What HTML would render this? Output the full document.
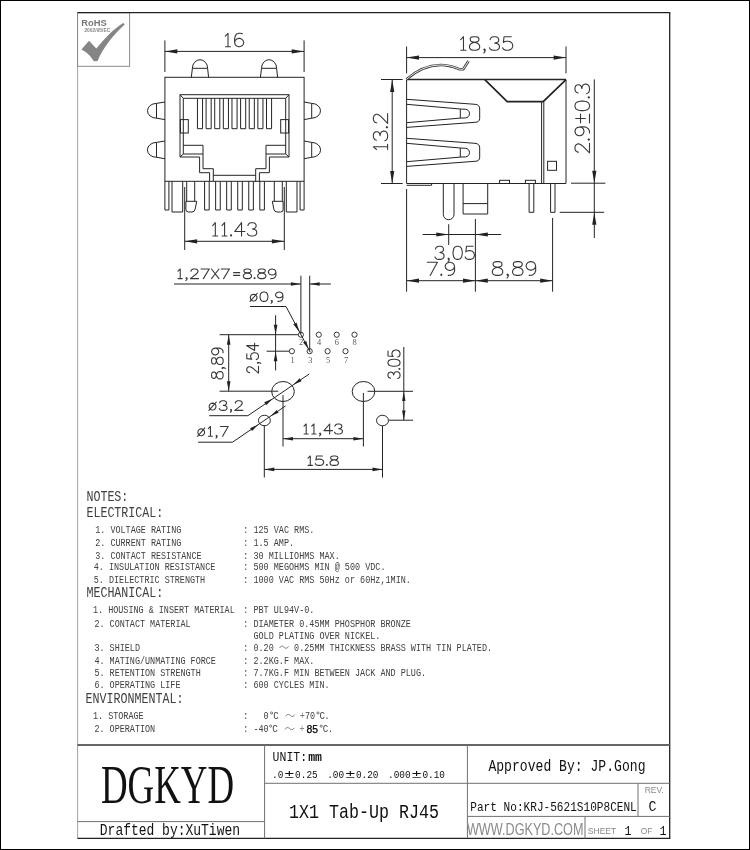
<!DOCTYPE html>
<html><head><meta charset="utf-8"><title>1X1 Tab-Up RJ45</title>
<style>
html,body{margin:0;padding:0;background:#fff;}
body{width:750px;height:850px;overflow:hidden;font-family:"Liberation Sans",sans-serif;}
svg{display:block;will-change:transform;}
text{font-family:"Liberation Mono",monospace;}
</style></head><body>
<svg width="750" height="850" viewBox="0 0 750 850">
<rect x="0" y="0" width="750" height="850" fill="#fff"/>
<rect x="0.5" y="0.5" width="749" height="849" fill="none" stroke="#000" stroke-width="1"/>
<line x1="669.70" y1="12.00" x2="669.70" y2="838.40" stroke="#222" stroke-width="1.30"/>
<line x1="77.60" y1="12.60" x2="77.60" y2="838.40" stroke="#999" stroke-width="0.90"/>
<line x1="77.50" y1="838.40" x2="670.30" y2="838.40" stroke="#222" stroke-width="1.30"/>
<rect x="77.5" y="12.7" width="52.1" height="53.6" fill="none" stroke="#8a8a8a" stroke-width="1"/>
<text x="81.3" y="26.3" font-family="Liberation Sans" font-weight="bold" font-size="9.3" fill="#777" style="font-family:'Liberation Sans'">RoHS</text>
<text x="84.4" y="31.8" font-family="Liberation Sans" font-weight="bold" font-size="4.9" fill="#888" style="font-family:'Liberation Sans'">2002/95/EC</text>
<path d="M81.4,49.4 L89,40.8 L96.3,48.6 C103,40 113,29 123.2,22.9 L124.9,24.2 C113,35 103,48 97.6,60.9 L93.8,61.3 C91,56 86,51.5 81.4,49.4 Z" fill="#858585"/>
<line x1="77.50" y1="12.60" x2="669.70" y2="12.60" stroke="#222" stroke-width="1.30"/>
<rect x="164.90" y="77.30" width="139.20" height="104.00" fill="none" stroke="#242424" stroke-width="1.00"/>
<path d="M191.30,77.30 L192.40,68.3 A7.60,8.6 0 0 1 207.60,68.3 L208.60,77.30" fill="none" stroke="#242424" stroke-width="1.00" />
<line x1="192.40" y1="68.30" x2="207.60" y2="68.30" stroke="#242424" stroke-width="1.00"/>
<path d="M260.40,77.30 L261.50,68.3 A7.55,8.6 0 0 1 276.60,68.3 L277.60,77.30" fill="none" stroke="#242424" stroke-width="1.00" />
<line x1="261.50" y1="68.30" x2="276.60" y2="68.30" stroke="#242424" stroke-width="1.00"/>
<path d="M164.90,102.00 L156.5,103.40 A9.0,7.4 0 0 0 156.5,118.20 L164.90,119.60" fill="none" stroke="#242424" stroke-width="1.00" />
<line x1="156.50" y1="103.40" x2="156.50" y2="118.20" stroke="#242424" stroke-width="1.00"/>
<path d="M304.10,102.00 L311.7,103.40 A8.8,7.4 0 0 1 311.7,118.20 L304.10,119.60" fill="none" stroke="#242424" stroke-width="1.00" />
<line x1="311.70" y1="103.40" x2="311.70" y2="118.20" stroke="#242424" stroke-width="1.00"/>
<path d="M164.90,141.00 L156.5,142.40 A9.0,7.4 0 0 0 156.5,157.30 L164.90,158.70" fill="none" stroke="#242424" stroke-width="1.00" />
<line x1="156.50" y1="142.40" x2="156.50" y2="157.30" stroke="#242424" stroke-width="1.00"/>
<path d="M304.10,141.00 L311.7,142.40 A8.8,7.4 0 0 1 311.7,157.30 L304.10,158.70" fill="none" stroke="#242424" stroke-width="1.00" />
<line x1="311.70" y1="142.40" x2="311.70" y2="157.30" stroke="#242424" stroke-width="1.00"/>
<path d="M209.60,181.30 L209.60,172.70 L199.60,172.70 L199.60,157.00 L180.00,157.00 L180.00,94.70 L289.00,94.70 L289.00,157.00 L269.40,157.00 L269.40,172.70 L259.40,172.70 L259.40,181.30" fill="none" stroke="#242424" stroke-width="1.00" />
<path d="M213.30,181.30 L213.30,168.70 L203.00,168.70 L203.00,154.00 L183.30,154.00 L183.30,98.30 L285.70,98.30 L285.70,154.00 L266.00,154.00 L266.00,168.70 L255.70,168.70 L255.70,181.30" fill="none" stroke="#242424" stroke-width="1.00" />
<line x1="180.00" y1="94.70" x2="183.30" y2="98.30" stroke="#242424" stroke-width="1.00"/>
<line x1="180.00" y1="157.00" x2="183.30" y2="154.00" stroke="#242424" stroke-width="1.00"/>
<path d="M183.30,145.3 L203.00,145.3 L203.00,154.0" fill="none" stroke="#242424" stroke-width="1.00" />
<rect x="180.40" y="119.60" width="7.90" height="13.40" fill="none" stroke="#242424" stroke-width="1.00"/>
<line x1="289.00" y1="94.70" x2="285.70" y2="98.30" stroke="#242424" stroke-width="1.00"/>
<line x1="289.00" y1="157.00" x2="285.70" y2="154.00" stroke="#242424" stroke-width="1.00"/>
<path d="M285.70,145.3 L266.00,145.3 L266.00,154.0" fill="none" stroke="#242424" stroke-width="1.00" />
<rect x="280.70" y="119.60" width="7.90" height="13.40" fill="none" stroke="#242424" stroke-width="1.00"/>
<line x1="213.30" y1="175.30" x2="255.70" y2="175.30" stroke="#242424" stroke-width="1.00"/>
<path d="M197.45,98.3 L197.45,128.7 L202.55,128.7 L202.55,98.3" fill="none" stroke="#242424" stroke-width="1.00" />
<path d="M206.08,98.3 L206.08,128.7 L211.18,128.7 L211.18,98.3" fill="none" stroke="#242424" stroke-width="1.00" />
<path d="M214.71,98.3 L214.71,128.7 L219.81,128.7 L219.81,98.3" fill="none" stroke="#242424" stroke-width="1.00" />
<path d="M223.34,98.3 L223.34,128.7 L228.44,128.7 L228.44,98.3" fill="none" stroke="#242424" stroke-width="1.00" />
<path d="M231.97,98.3 L231.97,128.7 L237.07,128.7 L237.07,98.3" fill="none" stroke="#242424" stroke-width="1.00" />
<path d="M240.60,98.3 L240.60,128.7 L245.70,128.7 L245.70,98.3" fill="none" stroke="#242424" stroke-width="1.00" />
<path d="M249.23,98.3 L249.23,128.7 L254.33,128.7 L254.33,98.3" fill="none" stroke="#242424" stroke-width="1.00" />
<path d="M257.86,98.3 L257.86,128.7 L262.96,128.7 L262.96,98.3" fill="none" stroke="#242424" stroke-width="1.00" />
<path d="M266.49,98.3 L266.49,128.7 L271.59,128.7 L271.59,98.3" fill="none" stroke="#242424" stroke-width="1.00" />
<path d="M164.90,181.30 L164.90,210 L168.90,210 L168.90,181.30" fill="none" stroke="#242424" stroke-width="1.00" />
<path d="M172.00,181.30 L172.00,212 L182.70,212 L182.70,181.30" fill="none" stroke="#242424" stroke-width="1.00" />
<line x1="186.70" y1="181.30" x2="186.70" y2="201.30" stroke="#242424" stroke-width="1.00"/>
<line x1="194.70" y1="181.30" x2="194.70" y2="201.30" stroke="#242424" stroke-width="1.00"/>
<path d="M185.90,201.3 L196.70,201.3 L195.20,209 Q194.60,212 192.00,212 L188.50,212 Q185.90,212 185.90,209.5 Z" fill="none" stroke="#242424" stroke-width="1.00" />
<path d="M304.10,181.30 L304.10,210 L300.10,210 L300.10,181.30" fill="none" stroke="#242424" stroke-width="1.00" />
<path d="M297.00,181.30 L297.00,212 L286.30,212 L286.30,181.30" fill="none" stroke="#242424" stroke-width="1.00" />
<line x1="282.30" y1="181.30" x2="282.30" y2="201.30" stroke="#242424" stroke-width="1.00"/>
<line x1="274.30" y1="181.30" x2="274.30" y2="201.30" stroke="#242424" stroke-width="1.00"/>
<path d="M283.10,201.3 L272.30,201.3 L273.80,209 Q274.40,212 277.00,212 L280.50,212 Q283.10,212 283.10,209.5 Z" fill="none" stroke="#242424" stroke-width="1.00" />
<path d="M204.60,181.30 L204.60,210 L209.20,210 L209.20,181.30" fill="none" stroke="#242424" stroke-width="1.00" />
<path d="M215.64,181.30 L215.64,210 L220.24,210 L220.24,181.30" fill="none" stroke="#242424" stroke-width="1.00" />
<path d="M226.68,181.30 L226.68,210 L231.28,210 L231.28,181.30" fill="none" stroke="#242424" stroke-width="1.00" />
<path d="M237.72,181.30 L237.72,210 L242.32,210 L242.32,181.30" fill="none" stroke="#242424" stroke-width="1.00" />
<path d="M248.76,181.30 L248.76,210 L253.36,210 L253.36,181.30" fill="none" stroke="#242424" stroke-width="1.00" />
<path d="M259.80,181.30 L259.80,210 L264.40,210 L264.40,181.30" fill="none" stroke="#242424" stroke-width="1.00" />
<line x1="164.90" y1="40.40" x2="164.90" y2="72.00" stroke="#242424" stroke-width="1.00"/>
<line x1="304.10" y1="40.40" x2="304.10" y2="72.00" stroke="#242424" stroke-width="1.00"/>
<line x1="164.90" y1="51.40" x2="304.10" y2="51.40" stroke="#242424" stroke-width="1.00"/>
<polygon points="164.90,51.40 177.30,49.30 177.30,53.50" fill="#222"/>
<polygon points="304.10,51.40 291.70,53.50 291.70,49.30" fill="#222"/>
<path d="M225.30,36.24 L228.00,33.30 L228.00,46.70 M225.43,46.70 L230.44,46.70 M242.44,33.81 L240.55,33.30 L238.80,33.30 L236.69,33.94 L235.29,35.85 L234.59,39.04 L234.59,42.23 L235.29,44.79 L236.69,46.06 L238.80,46.70 L239.50,46.70 L241.60,46.06 L243.00,44.79 L243.70,42.87 L243.70,42.23 L243.00,40.32 L241.60,39.04 L239.50,38.40 L238.80,38.40 L236.69,39.04 L235.29,40.32 L234.59,42.23" fill="none" stroke="#383838" stroke-width="1.10" stroke-linecap="round" stroke-linejoin="round"/>
<line x1="184.70" y1="187.00" x2="184.70" y2="250.00" stroke="#242424" stroke-width="1.00"/>
<line x1="284.30" y1="187.00" x2="284.30" y2="250.00" stroke="#242424" stroke-width="1.00"/>
<line x1="184.70" y1="241.30" x2="284.30" y2="241.30" stroke="#242424" stroke-width="1.00"/>
<polygon points="184.70,241.30 197.10,239.20 197.10,243.40" fill="#222"/>
<polygon points="284.30,241.30 271.90,243.40 271.90,239.20" fill="#222"/>
<path d="M212.70,225.61 L215.33,222.70 L215.33,236.00 M212.83,236.00 L217.71,236.00 M221.97,225.61 L224.60,222.70 L224.60,236.00 M222.09,236.00 L226.98,236.00 M231.05,234.73 L230.42,235.37 L231.05,236.00 L231.67,235.37 L231.05,234.73 M241.55,222.70 L234.72,231.57 L244.96,231.57 M241.55,222.70 L241.55,236.00 M247.93,225.55 L248.34,224.35 L249.29,223.33 L250.86,222.70 L253.39,222.70 L254.89,223.27 L255.71,224.09 L256.12,225.36 L256.12,226.37 L255.57,227.64 L254.27,228.53 L252.36,228.97 M252.36,228.97 L254.41,229.35 L255.84,230.17 L256.60,231.31 L256.80,232.45 L256.53,233.85 L255.71,234.99 L254.48,235.68 L252.70,236.00 L251.07,236.00 L249.16,235.56 L248.06,234.73 L247.38,233.47" fill="none" stroke="#383838" stroke-width="1.10" stroke-linecap="round" stroke-linejoin="round"/>
<line x1="406.60" y1="79.60" x2="566.00" y2="79.60" stroke="#242424" stroke-width="1.50"/>
<line x1="406.60" y1="79.60" x2="406.60" y2="183.50" stroke="#242424" stroke-width="1.00"/>
<line x1="566.00" y1="79.60" x2="566.00" y2="183.50" stroke="#242424" stroke-width="1.00"/>
<line x1="406.60" y1="183.50" x2="566.00" y2="183.50" stroke="#242424" stroke-width="1.00"/>
<path d="M484.8,79.60 L507.2,101.7 L543.2,101.7 L566.00,79.60" fill="none" stroke="#222" stroke-width="1.70" />
<line x1="541.60" y1="101.70" x2="541.60" y2="183.50" stroke="#242424" stroke-width="1.00"/>
<line x1="543.80" y1="101.70" x2="543.80" y2="183.50" stroke="#242424" stroke-width="1.00"/>
<rect x="547.60" y="161.30" width="8.90" height="9.00" fill="none" stroke="#242424" stroke-width="1.00"/>
<path d="M406.60,79.30 C417,70 428,65.2 440.7,65.0 C450,65.0 455,67.5 459.3,69.2 L463.3,69.2 L468.5,61.0" fill="none" stroke="#3a3a3a" stroke-width="2.60" />
<path d="M406.60,79.30 C417,70 428,65.2 440.7,65.0 C450,65.0 455,67.5 459.3,69.2 L463.3,69.2 L468.5,61.0" fill="none" stroke="#fff" stroke-width="0.90" />
<path d="M406.60,99.30 L475,104.30 Q479.7,104.60 479.7,109.00 L479.7,118.30 Q479.7,122.30 475,122.30 L406.60,127.40" fill="none" stroke="#242424" stroke-width="1.00" />
<path d="M406.60,104.30 L460.3,109.00 L465.4,109.30 A4.1,4.3 0 0 1 465.4,117.90 L460.3,118.10 L406.60,122.70" fill="none" stroke="#242424" stroke-width="1.00" />
<line x1="460.30" y1="109.00" x2="460.30" y2="118.10" stroke="#242424" stroke-width="1.00"/>
<path d="M406.60,138.30 L475,143.30 Q479.7,143.60 479.7,148.00 L479.7,157.30 Q479.7,161.30 475,161.30 L406.60,166.40" fill="none" stroke="#242424" stroke-width="1.00" />
<path d="M406.60,143.30 L460.3,148.00 L465.4,148.30 A4.1,4.3 0 0 1 465.4,156.90 L460.3,157.10 L406.60,161.70" fill="none" stroke="#242424" stroke-width="1.00" />
<line x1="460.30" y1="148.00" x2="460.30" y2="157.10" stroke="#242424" stroke-width="1.00"/>
<path d="M406.60,185.3 L431.6,185.3 L431.6,183.50" fill="none" stroke="#242424" stroke-width="1.00" />
<rect x="499.60" y="180.30" width="9.90" height="3.20" fill="none" stroke="#242424" stroke-width="1.00"/>
<rect x="525.40" y="180.30" width="10.00" height="3.20" fill="none" stroke="#242424" stroke-width="1.00"/>
<path d="M443.3,183.50 L443.3,214.5 A5.35,5.2 0 0 0 454.0,214.5 L454.0,183.50" fill="none" stroke="#242424" stroke-width="1.00" />
<path d="M463.1,183.50 L463.1,214.0 L487.7,214.0 L487.7,183.50" fill="none" stroke="#242424" stroke-width="1.00" />
<line x1="463.10" y1="203.60" x2="487.70" y2="203.60" stroke="#242424" stroke-width="1.00"/>
<path d="M529.1,183.50 L529.1,212.3 L533.8,212.3 L533.8,183.50" fill="none" stroke="#242424" stroke-width="1.00" />
<path d="M550.6,183.50 L550.6,212.3 L555.0,212.3 L555.0,183.50" fill="none" stroke="#242424" stroke-width="1.00" />
<line x1="406.60" y1="46.50" x2="406.60" y2="73.40" stroke="#242424" stroke-width="1.00"/>
<line x1="566.00" y1="46.50" x2="566.00" y2="73.40" stroke="#242424" stroke-width="1.00"/>
<line x1="406.60" y1="57.60" x2="566.00" y2="57.60" stroke="#242424" stroke-width="1.00"/>
<polygon points="406.60,57.60 419.00,55.50 419.00,59.70" fill="#222"/>
<polygon points="566.00,57.60 553.60,59.70 553.60,55.50" fill="#222"/>
<path d="M460.70,39.68 L463.48,36.70 L463.48,50.30 M460.83,50.30 L465.99,50.30 M473.15,36.70 L470.98,37.35 L470.26,38.64 L470.26,39.94 L470.98,41.23 L472.43,41.88 L475.31,42.53 L477.47,43.18 L478.91,44.47 L479.63,45.77 L479.63,47.71 L478.91,49.00 L478.19,49.65 L476.03,50.30 L473.15,50.30 L470.98,49.65 L470.26,49.00 L469.54,47.71 L469.54,45.77 L470.26,44.47 L471.70,43.18 L473.87,42.53 L476.75,41.88 L478.19,41.23 L478.91,39.94 L478.91,38.64 L478.19,37.35 L476.03,36.70 L473.15,36.70 M485.17,49.65 L484.51,50.30 L483.85,49.65 L484.51,49.00 L485.17,49.65 L485.17,50.95 L484.51,52.24 L483.85,52.89 M490.10,39.61 L490.54,38.38 L491.54,37.35 L493.20,36.70 L495.87,36.70 L497.46,37.28 L498.32,38.12 L498.75,39.42 L498.75,40.46 L498.18,41.75 L496.81,42.66 L494.79,43.11 M494.79,43.11 L496.95,43.50 L498.46,44.34 L499.26,45.51 L499.47,46.67 L499.19,48.10 L498.32,49.26 L497.02,49.98 L495.15,50.30 L493.42,50.30 L491.40,49.85 L490.25,49.00 L489.53,47.71 M511.26,36.70 L504.05,36.70 L503.33,42.53 L504.05,41.88 L506.21,41.23 L508.37,41.23 L510.54,41.88 L511.98,43.18 L512.70,45.12 L512.70,46.41 L511.98,48.36 L510.54,49.65 L508.37,50.30 L506.21,50.30 L504.05,49.65 L503.33,49.00 L502.61,47.71" fill="none" stroke="#383838" stroke-width="1.10" stroke-linecap="round" stroke-linejoin="round"/>
<line x1="381.00" y1="79.50" x2="402.60" y2="79.50" stroke="#242424" stroke-width="1.00"/>
<line x1="381.00" y1="183.50" x2="402.60" y2="183.50" stroke="#242424" stroke-width="1.00"/>
<line x1="392.20" y1="79.50" x2="392.20" y2="183.50" stroke="#242424" stroke-width="1.00"/>
<polygon points="392.20,79.50 394.30,91.90 390.10,91.90" fill="#222"/>
<polygon points="392.20,183.50 390.10,171.10 394.30,171.10" fill="#222"/>
<path d="M376.51,149.50 L373.40,146.79 L387.60,146.79 M387.60,149.37 L387.60,144.34 M376.44,140.17 L375.16,139.75 L374.08,138.76 L373.40,137.14 L373.40,134.54 L374.01,132.99 L374.89,132.15 L376.24,131.73 L377.32,131.73 L378.67,132.29 L379.62,133.63 L380.09,135.60 M380.09,135.60 L380.50,133.49 L381.38,132.01 L382.60,131.24 L383.81,131.02 L385.30,131.31 L386.52,132.15 L387.26,133.42 L387.60,135.24 L387.60,136.93 L387.13,138.90 L386.25,140.03 L384.90,140.73 M386.25,127.24 L386.92,127.88 L387.60,127.24 L386.92,126.59 L386.25,127.24 M376.78,122.74 L376.10,122.74 L374.75,122.04 L374.08,121.34 L373.40,119.93 L373.40,117.12 L374.08,115.71 L374.75,115.01 L376.10,114.30 L377.46,114.30 L378.81,115.01 L380.84,116.41 L387.60,123.45 L387.60,113.60" fill="none" stroke="#383838" stroke-width="1.10" stroke-linecap="round" stroke-linejoin="round"/>
<line x1="571.00" y1="183.20" x2="605.40" y2="183.20" stroke="#242424" stroke-width="1.00"/>
<line x1="559.70" y1="212.30" x2="604.20" y2="212.30" stroke="#242424" stroke-width="1.00"/>
<line x1="594.30" y1="79.40" x2="594.30" y2="238.00" stroke="#242424" stroke-width="1.00"/>
<polygon points="594.30,183.20 592.20,170.80 596.40,170.80" fill="#222"/>
<polygon points="594.30,212.30 596.40,224.70 592.20,224.70" fill="#222"/>
<path d="M578.45,152.11 L577.76,152.11 L576.38,151.43 L575.69,150.74 L575.00,149.37 L575.00,146.63 L575.69,145.26 L576.38,144.58 L577.76,143.89 L579.14,143.89 L580.52,144.58 L582.60,145.95 L589.50,152.80 L589.50,143.20 M588.12,139.51 L588.81,140.14 L589.50,139.51 L588.81,138.89 L588.12,139.51 M579.83,126.91 L581.90,127.60 L583.29,128.97 L583.98,131.03 L583.98,131.71 L583.29,133.77 L581.90,135.14 L579.83,135.82 L579.14,135.82 L577.07,135.14 L575.69,133.77 L575.00,131.71 L575.00,131.03 L575.69,128.97 L577.07,127.60 L579.83,126.91 L583.29,126.91 L584.32,126.78 L586.74,127.60 L588.53,128.97 L589.36,130.68 L589.50,132.94 M580.52,122.85 L580.52,114.05 M575.69,118.45 L585.36,118.45 M589.50,122.85 L589.50,114.05 M575.00,106.56 L575.69,108.62 L577.76,109.99 L581.21,110.67 L583.29,110.67 L586.74,109.99 L588.81,108.62 L589.50,106.56 L589.50,105.19 L588.81,103.13 L586.74,101.76 L583.29,101.08 L581.21,101.08 L577.76,101.76 L575.69,103.13 L575.00,105.19 L575.00,106.56 M588.12,97.39 L588.81,98.01 L589.50,97.39 L588.81,96.76 L588.12,97.39 M578.11,93.01 L576.80,92.60 L575.69,91.64 L575.00,90.06 L575.00,87.53 L575.62,86.02 L576.52,85.20 L577.90,84.79 L579.00,84.79 L580.39,85.33 L581.35,86.64 L581.84,88.55 M581.84,88.55 L582.25,86.50 L583.15,85.06 L584.39,84.31 L585.63,84.10 L587.15,84.37 L588.40,85.20 L589.15,86.43 L589.50,88.21 L589.50,89.86 L589.02,91.78 L588.12,92.87 L586.74,93.56" fill="none" stroke="#383838" stroke-width="1.10" stroke-linecap="round" stroke-linejoin="round"/>
<line x1="406.60" y1="189.00" x2="406.60" y2="291.70" stroke="#242424" stroke-width="1.00"/>
<line x1="475.40" y1="219.00" x2="475.40" y2="291.70" stroke="#242424" stroke-width="1.00"/>
<line x1="552.60" y1="217.90" x2="552.60" y2="291.70" stroke="#242424" stroke-width="1.00"/>
<line x1="448.70" y1="224.20" x2="448.70" y2="245.00" stroke="#242424" stroke-width="1.00"/>
<line x1="422.60" y1="234.50" x2="501.20" y2="234.50" stroke="#242424" stroke-width="1.00"/>
<polygon points="448.70,234.50 436.30,236.60 436.30,232.40" fill="#222"/>
<polygon points="475.40,234.50 487.80,232.40 487.80,236.60" fill="#222"/>
<line x1="406.60" y1="280.70" x2="552.60" y2="280.70" stroke="#242424" stroke-width="1.00"/>
<polygon points="406.60,280.70 419.00,278.60 419.00,282.80" fill="#222"/>
<polygon points="475.40,280.70 463.00,282.80 463.00,278.60" fill="#222"/>
<polygon points="475.40,280.70 487.80,278.60 487.80,282.80" fill="#222"/>
<polygon points="552.60,280.70 540.20,282.80 540.20,278.60" fill="#222"/>
<path d="M435.53,249.11 L435.92,247.92 L436.85,246.92 L438.37,246.30 L440.81,246.30 L442.26,246.86 L443.06,247.67 L443.45,248.92 L443.45,249.92 L442.92,251.17 L441.67,252.04 L439.82,252.48 M439.82,252.48 L441.80,252.85 L443.19,253.66 L443.91,254.78 L444.11,255.91 L443.85,257.28 L443.06,258.40 L441.87,259.09 L440.15,259.40 L438.57,259.40 L436.72,258.96 L435.66,258.15 L435.00,256.90 M449.18,258.78 L448.58,259.40 L447.97,258.78 L448.58,258.15 L449.18,258.78 L449.18,260.02 L448.58,261.27 L447.97,261.90 M457.00,246.30 L455.02,246.92 L453.70,248.80 L453.04,251.91 L453.04,253.79 L453.70,256.90 L455.02,258.78 L457.00,259.40 L458.32,259.40 L460.30,258.78 L461.62,256.90 L462.28,253.79 L462.28,251.91 L461.62,248.80 L460.30,246.92 L458.32,246.30 L457.00,246.30 M473.08,246.30 L466.48,246.30 L465.82,251.91 L466.48,251.29 L468.46,250.67 L470.44,250.67 L472.42,251.29 L473.74,252.54 L474.40,254.41 L474.40,255.66 L473.74,257.53 L472.42,258.78 L470.44,259.40 L468.46,259.40 L466.48,258.78 L465.82,258.15 L465.16,256.90" fill="none" stroke="#383838" stroke-width="1.10" stroke-linecap="round" stroke-linejoin="round"/>
<path d="M437.40,262.30 L430.19,275.40 M427.30,262.30 L437.40,262.30 M441.29,274.15 L440.63,274.78 L441.29,275.40 L441.95,274.78 L441.29,274.15 M454.56,266.67 L453.83,268.54 L452.39,269.79 L450.23,270.41 L449.50,270.41 L447.34,269.79 L445.90,268.54 L445.17,266.67 L445.17,266.04 L445.90,264.17 L447.34,262.92 L449.50,262.30 L450.23,262.30 L452.39,262.92 L453.83,264.17 L454.56,266.67 L454.56,269.79 L454.70,270.72 L453.83,272.90 L452.39,274.53 L450.59,275.28 L448.21,275.40" fill="none" stroke="#383838" stroke-width="1.10" stroke-linecap="round" stroke-linejoin="round"/>
<path d="M496.07,261.60 L493.87,262.26 L493.13,263.57 L493.13,264.89 L493.87,266.20 L495.34,266.86 L498.28,267.51 L500.48,268.17 L501.95,269.49 L502.69,270.80 L502.69,272.77 L501.95,274.09 L501.22,274.74 L499.01,275.40 L496.07,275.40 L493.87,274.74 L493.13,274.09 L492.40,272.77 L492.40,270.80 L493.13,269.49 L494.60,268.17 L496.81,267.51 L499.75,266.86 L501.22,266.20 L501.95,264.89 L501.95,263.57 L501.22,262.26 L499.01,261.60 L496.07,261.60 M508.33,274.74 L507.65,275.40 L506.98,274.74 L507.65,274.09 L508.33,274.74 L508.33,276.06 L507.65,277.37 L506.98,278.03 M516.29,261.60 L514.09,262.26 L513.36,263.57 L513.36,264.89 L514.09,266.20 L515.56,266.86 L518.50,267.51 L520.70,268.17 L522.17,269.49 L522.91,270.80 L522.91,272.77 L522.17,274.09 L521.44,274.74 L519.23,275.40 L516.29,275.40 L514.09,274.74 L513.36,274.09 L512.62,272.77 L512.62,270.80 L513.36,269.49 L514.83,268.17 L517.03,267.51 L519.97,266.86 L521.44,266.20 L522.17,264.89 L522.17,263.57 L521.44,262.26 L519.23,261.60 L516.29,261.60 M535.65,266.20 L534.92,268.17 L533.45,269.49 L531.24,270.14 L530.51,270.14 L528.31,269.49 L526.84,268.17 L526.10,266.20 L526.10,265.54 L526.84,263.57 L528.31,262.26 L530.51,261.60 L531.24,261.60 L533.45,262.26 L534.92,263.57 L535.65,266.20 L535.65,269.49 L535.80,270.47 L534.92,272.77 L533.45,274.48 L531.61,275.27 L529.19,275.40" fill="none" stroke="#383838" stroke-width="1.10" stroke-linecap="round" stroke-linejoin="round"/>
<circle cx="300.90" cy="334.70" r="2.60" fill="none" stroke="#242424" stroke-width="0.90"/>
<circle cx="318.80" cy="334.70" r="2.60" fill="none" stroke="#242424" stroke-width="0.90"/>
<circle cx="336.70" cy="334.70" r="2.60" fill="none" stroke="#242424" stroke-width="0.90"/>
<circle cx="354.50" cy="334.70" r="2.60" fill="none" stroke="#242424" stroke-width="0.90"/>
<circle cx="291.90" cy="351.20" r="2.60" fill="none" stroke="#242424" stroke-width="0.90"/>
<circle cx="309.70" cy="351.20" r="2.60" fill="none" stroke="#242424" stroke-width="0.90"/>
<circle cx="327.60" cy="351.20" r="2.60" fill="none" stroke="#242424" stroke-width="0.90"/>
<circle cx="345.50" cy="351.20" r="2.60" fill="none" stroke="#242424" stroke-width="0.90"/>
<text x="301.10" y="345.3" font-size="8.4" text-anchor="middle" fill="#5a5a5a" style="font-family:'Liberation Serif'">2</text>
<text x="319.00" y="345.3" font-size="8.4" text-anchor="middle" fill="#5a5a5a" style="font-family:'Liberation Serif'">4</text>
<text x="336.90" y="345.3" font-size="8.4" text-anchor="middle" fill="#5a5a5a" style="font-family:'Liberation Serif'">6</text>
<text x="354.70" y="345.3" font-size="8.4" text-anchor="middle" fill="#5a5a5a" style="font-family:'Liberation Serif'">8</text>
<text x="292.50" y="363.3" font-size="8.4" text-anchor="middle" fill="#5a5a5a" style="font-family:'Liberation Serif'">1</text>
<text x="310.30" y="363.3" font-size="8.4" text-anchor="middle" fill="#5a5a5a" style="font-family:'Liberation Serif'">3</text>
<text x="328.20" y="363.3" font-size="8.4" text-anchor="middle" fill="#5a5a5a" style="font-family:'Liberation Serif'">5</text>
<text x="346.10" y="363.3" font-size="8.4" text-anchor="middle" fill="#5a5a5a" style="font-family:'Liberation Serif'">7</text>
<line x1="300.90" y1="275.70" x2="300.90" y2="334.00" stroke="#242424" stroke-width="1.00"/>
<line x1="309.70" y1="275.70" x2="309.70" y2="350.50" stroke="#242424" stroke-width="1.00"/>
<line x1="174.00" y1="284.00" x2="300.90" y2="284.00" stroke="#242424" stroke-width="1.00"/>
<polygon points="300.90,284.00 290.90,285.80 290.90,282.20" fill="#222"/>
<line x1="309.70" y1="284.00" x2="330.80" y2="284.00" stroke="#242424" stroke-width="1.00"/>
<polygon points="309.70,284.00 319.70,282.20 319.70,285.80" fill="#222"/>
<path d="M178.00,271.10 L180.23,269.00 L180.23,278.60 M178.11,278.60 L182.25,278.60 M187.04,278.14 L186.51,278.60 L185.98,278.14 L186.51,277.69 L187.04,278.14 L187.04,279.06 L186.51,279.97 L185.98,280.43 M191.01,271.29 L191.01,270.83 L191.59,269.91 L192.17,269.46 L193.33,269.00 L195.65,269.00 L196.81,269.46 L197.39,269.91 L197.97,270.83 L197.97,271.74 L197.39,272.66 L196.23,274.03 L190.43,278.60 L198.55,278.60 M209.18,269.00 L203.39,278.60 M201.07,269.00 L209.18,269.00 M211.51,269.00 L218.95,278.60 M218.95,269.00 L211.51,278.60 M229.39,269.00 L223.60,278.60 M221.28,269.00 L229.39,269.00 M233.58,272.66 L239.70,272.66 M233.58,275.40 L239.70,275.40 M246.25,269.00 L244.51,269.46 L243.93,270.37 L243.93,271.29 L244.51,272.20 L245.67,272.66 L247.99,273.11 L249.73,273.57 L250.89,274.49 L251.47,275.40 L251.47,276.77 L250.89,277.69 L250.31,278.14 L248.57,278.60 L246.25,278.60 L244.51,278.14 L243.93,277.69 L243.35,276.77 L243.35,275.40 L243.93,274.49 L245.09,273.57 L246.83,273.11 L249.15,272.66 L250.31,272.20 L250.89,271.29 L250.89,270.37 L250.31,269.46 L248.57,269.00 L246.25,269.00 M254.59,277.69 L254.06,278.14 L254.59,278.60 L255.12,278.14 L254.59,277.69 M260.61,269.00 L258.87,269.46 L258.29,270.37 L258.29,271.29 L258.87,272.20 L260.03,272.66 L262.35,273.11 L264.09,273.57 L265.25,274.49 L265.83,275.40 L265.83,276.77 L265.25,277.69 L264.67,278.14 L262.93,278.60 L260.61,278.60 L258.87,278.14 L258.29,277.69 L257.71,276.77 L257.71,275.40 L258.29,274.49 L259.45,273.57 L261.19,273.11 L263.51,272.66 L264.67,272.20 L265.25,271.29 L265.25,270.37 L264.67,269.46 L262.93,269.00 L260.61,269.00 M275.88,272.20 L275.30,273.57 L274.14,274.49 L272.41,274.94 L271.83,274.94 L270.09,274.49 L268.93,273.57 L268.35,272.20 L268.35,271.74 L268.93,270.37 L270.09,269.46 L271.83,269.00 L272.41,269.00 L274.14,269.46 L275.30,270.37 L275.88,272.20 L275.88,274.49 L276.00,275.17 L275.30,276.77 L274.14,277.96 L272.70,278.51 L270.78,278.60" fill="none" stroke="#383838" stroke-width="1.10" stroke-linecap="round" stroke-linejoin="round"/>
<path d="M256.99,297.60 L256.73,298.88 L256.00,299.97 L254.91,300.70 L253.62,300.95 L252.34,300.70 L251.24,299.97 L250.51,298.88 L250.26,297.60 L250.51,296.31 L251.24,295.22 L252.34,294.49 L253.62,294.24 L254.91,294.49 L256.00,295.22 L256.73,296.31 L256.99,297.60 M250.00,301.40 L257.25,293.34 M263.41,292.00 L261.72,292.45 L260.59,293.79 L260.03,296.03 L260.03,297.37 L260.59,299.61 L261.72,300.95 L263.41,301.40 L264.54,301.40 L266.23,300.95 L267.36,299.61 L267.92,297.37 L267.92,296.03 L267.36,293.79 L266.23,292.45 L264.54,292.00 L263.41,292.00 M272.26,300.95 L271.74,301.40 L271.22,300.95 L271.74,300.50 L272.26,300.95 L272.26,301.85 L271.74,302.74 L271.22,303.19 M282.89,295.13 L282.32,296.48 L281.19,297.37 L279.50,297.82 L278.94,297.82 L277.25,297.37 L276.12,296.48 L275.55,295.13 L275.55,294.69 L276.12,293.34 L277.25,292.45 L278.94,292.00 L279.50,292.00 L281.19,292.45 L282.32,293.34 L282.89,295.13 L282.89,297.37 L283.00,298.04 L282.32,299.61 L281.19,300.77 L279.78,301.31 L277.92,301.40" fill="none" stroke="#383838" stroke-width="1.10" stroke-linecap="round" stroke-linejoin="round"/>
<path d="M250,306.5 L286,306.5 L310.3,352.3" fill="none" stroke="#242424" stroke-width="1.00" />
<polygon points="299.60,332.20 293.33,324.20 296.51,322.52" fill="#222"/>
<polygon points="308.40,348.80 303.09,342.56 306.27,340.88" fill="#222"/>
<line x1="219.60" y1="334.70" x2="298.20" y2="334.70" stroke="#242424" stroke-width="1.00"/>
<line x1="219.60" y1="391.20" x2="278.30" y2="391.20" stroke="#242424" stroke-width="1.00"/>
<line x1="228.70" y1="334.70" x2="228.70" y2="391.20" stroke="#242424" stroke-width="1.00"/>
<polygon points="228.70,334.70 230.50,344.70 226.90,344.70" fill="#222"/>
<polygon points="228.70,391.20 226.90,381.20 230.50,381.20" fill="#222"/>
<path d="M211.60,376.28 L212.15,377.85 L213.24,378.38 L214.34,378.38 L215.43,377.85 L215.98,376.81 L216.53,374.72 L217.08,373.15 L218.17,372.10 L219.27,371.58 L220.91,371.58 L222.00,372.10 L222.55,372.62 L223.10,374.19 L223.10,376.28 L222.55,377.85 L222.00,378.38 L220.91,378.90 L219.27,378.90 L218.17,378.38 L217.08,377.33 L216.53,375.76 L215.98,373.67 L215.43,372.62 L214.34,372.10 L213.24,372.10 L212.15,372.62 L211.60,374.19 L211.60,376.28 M222.55,367.56 L223.10,368.04 L222.55,368.52 L222.00,368.04 L222.55,367.56 L223.65,367.56 L224.74,368.04 L225.29,368.52 M211.60,361.89 L212.15,363.46 L213.24,363.98 L214.34,363.98 L215.43,363.46 L215.98,362.41 L216.53,360.32 L217.08,358.75 L218.17,357.70 L219.27,357.18 L220.91,357.18 L222.00,357.70 L222.55,358.23 L223.10,359.80 L223.10,361.89 L222.55,363.46 L222.00,363.98 L220.91,364.50 L219.27,364.50 L218.17,363.98 L217.08,362.93 L216.53,361.36 L215.98,359.27 L215.43,358.23 L214.34,357.70 L213.24,357.70 L212.15,358.23 L211.60,359.80 L211.60,361.89 M215.43,348.10 L217.08,348.63 L218.17,349.67 L218.72,351.24 L218.72,351.77 L218.17,353.34 L217.08,354.38 L215.43,354.90 L214.89,354.90 L213.24,354.38 L212.15,353.34 L211.60,351.77 L211.60,351.24 L212.15,349.67 L213.24,348.63 L215.43,348.10 L218.17,348.10 L218.99,348.00 L220.91,348.63 L222.33,349.67 L222.99,350.98 L223.10,352.71" fill="none" stroke="#383838" stroke-width="1.10" stroke-linecap="round" stroke-linejoin="round"/>
<line x1="266.60" y1="351.20" x2="289.20" y2="351.20" stroke="#242424" stroke-width="1.00"/>
<line x1="275.60" y1="315.20" x2="275.60" y2="370.40" stroke="#242424" stroke-width="1.00"/>
<polygon points="275.60,334.70 273.80,324.70 277.40,324.70" fill="#222"/>
<polygon points="275.60,351.20 277.40,361.20 273.80,361.20" fill="#222"/>
<path d="M249.59,372.61 L249.03,372.61 L247.91,372.12 L247.36,371.63 L246.80,370.64 L246.80,368.68 L247.36,367.70 L247.91,367.21 L249.03,366.71 L250.14,366.71 L251.26,367.21 L252.93,368.19 L258.50,373.10 L258.50,366.22 M257.94,362.45 L258.50,362.90 L257.94,363.35 L257.39,362.90 L257.94,362.45 L259.06,362.45 L260.17,362.90 L260.73,363.35 M246.80,353.69 L246.80,358.60 L251.81,359.09 L251.26,358.60 L250.70,357.12 L250.70,355.65 L251.26,354.18 L252.37,353.20 L254.04,352.70 L255.16,352.70 L256.83,353.20 L257.94,354.18 L258.50,355.65 L258.50,357.12 L257.94,358.60 L257.39,359.09 L256.27,359.58 M246.80,345.66 L254.60,350.57 L254.60,343.20 M246.80,345.66 L258.50,345.66" fill="none" stroke="#383838" stroke-width="1.10" stroke-linecap="round" stroke-linejoin="round"/>
<ellipse cx="283.00" cy="391.50" rx="11.30" ry="10.00" fill="none" stroke="#242424" stroke-width="1.00"/>
<ellipse cx="363.50" cy="391.50" rx="11.30" ry="10.00" fill="none" stroke="#242424" stroke-width="1.00"/>
<ellipse cx="264.40" cy="420.50" rx="5.95" ry="5.25" fill="none" stroke="#242424" stroke-width="1.00"/>
<ellipse cx="382.50" cy="420.50" rx="5.95" ry="5.25" fill="none" stroke="#242424" stroke-width="1.00"/>
<path d="M215.98,406.51 L215.72,407.83 L214.98,408.94 L213.88,409.68 L212.57,409.94 L211.27,409.68 L210.16,408.94 L209.42,407.83 L209.16,406.51 L209.42,405.20 L210.16,404.09 L211.27,403.35 L212.57,403.09 L213.88,403.35 L214.98,404.09 L215.72,405.20 L215.98,406.51 M208.90,410.40 L216.24,402.17 M219.63,402.86 L219.97,401.99 L220.78,401.26 L222.09,400.80 L224.21,400.80 L225.46,401.21 L226.15,401.81 L226.49,402.72 L226.49,403.45 L226.04,404.37 L224.95,405.01 L223.35,405.33 M223.35,405.33 L225.06,405.60 L226.26,406.19 L226.89,407.02 L227.06,407.84 L226.84,408.85 L226.15,409.67 L225.12,410.17 L223.63,410.40 L222.26,410.40 L220.66,410.08 L219.75,409.49 L219.17,408.57 M231.45,409.94 L230.93,410.40 L230.41,409.94 L230.93,409.49 L231.45,409.94 L231.45,410.86 L230.93,411.77 L230.41,412.23 M235.37,403.09 L235.37,402.63 L235.94,401.71 L236.51,401.26 L237.65,400.80 L239.94,400.80 L241.08,401.26 L241.66,401.71 L242.23,402.63 L242.23,403.54 L241.66,404.46 L240.51,405.83 L234.80,410.40 L242.80,410.40" fill="none" stroke="#383838" stroke-width="1.10" stroke-linecap="round" stroke-linejoin="round"/>
<path d="M209.2,415.7 L247.9,415.7 L309.2,374.0" fill="none" stroke="#242424" stroke-width="1.00" />
<polygon points="272.50,398.80 266.18,405.16 264.27,402.34" fill="#222"/>
<polygon points="293.30,384.70 299.62,378.34 301.53,381.16" fill="#222"/>
<path d="M204.55,432.33 L204.30,433.67 L203.57,434.81 L202.49,435.57 L201.20,435.83 L199.92,435.57 L198.84,434.81 L198.11,433.67 L197.86,432.33 L198.11,430.99 L198.84,429.86 L199.92,429.10 L201.20,428.83 L202.49,429.10 L203.57,429.86 L204.30,430.99 L204.55,432.33 M197.60,436.30 L204.81,427.90 M208.31,428.65 L210.47,426.50 L210.47,436.30 M208.41,436.30 L212.43,436.30 M217.06,435.83 L216.55,436.30 L216.03,435.83 L216.55,435.37 L217.06,435.83 L217.06,436.77 L216.55,437.70 L216.03,438.17 M228.20,426.50 L222.59,436.30 M220.34,426.50 L228.20,426.50" fill="none" stroke="#383838" stroke-width="1.10" stroke-linecap="round" stroke-linejoin="round"/>
<path d="M198.1,442.2 L232.5,442.2 L285.6,405.9" fill="none" stroke="#242424" stroke-width="1.00" />
<polygon points="258.30,424.60 251.99,430.97 250.08,428.16" fill="#222"/>
<polygon points="270.40,416.30 276.71,409.93 278.62,412.74" fill="#222"/>
<line x1="283.00" y1="395.20" x2="283.00" y2="446.50" stroke="#242424" stroke-width="1.00"/>
<line x1="363.40" y1="393.00" x2="363.40" y2="446.50" stroke="#242424" stroke-width="1.00"/>
<line x1="283.00" y1="438.70" x2="363.40" y2="438.70" stroke="#242424" stroke-width="1.00"/>
<polygon points="283.00,438.70 293.00,436.90 293.00,440.50" fill="#222"/>
<polygon points="363.40,438.70 353.40,440.50 353.40,436.90" fill="#222"/>
<path d="M304.00,426.19 L306.20,424.00 L306.20,434.00 M304.10,434.00 L308.18,434.00 M311.74,426.19 L313.94,424.00 L313.94,434.00 M311.84,434.00 L315.92,434.00 M320.63,433.52 L320.11,434.00 L319.58,433.52 L320.11,433.05 L320.63,433.52 L320.63,434.48 L320.11,435.43 L319.58,435.90 M329.66,424.00 L323.96,430.67 L332.51,430.67 M329.66,424.00 L329.66,434.00 M334.99,426.14 L335.33,425.24 L336.13,424.48 L337.44,424.00 L339.55,424.00 L340.80,424.43 L341.49,425.05 L341.83,426.00 L341.83,426.76 L341.37,427.71 L340.29,428.38 L338.69,428.71 M338.69,428.71 L340.40,429.00 L341.60,429.62 L342.23,430.48 L342.40,431.33 L342.17,432.38 L341.49,433.24 L340.46,433.76 L338.98,434.00 L337.61,434.00 L336.02,433.67 L335.10,433.05 L334.53,432.10" fill="none" stroke="#383838" stroke-width="1.10" stroke-linecap="round" stroke-linejoin="round"/>
<line x1="264.30" y1="425.40" x2="264.30" y2="477.50" stroke="#242424" stroke-width="1.00"/>
<line x1="382.50" y1="426.00" x2="382.50" y2="477.60" stroke="#242424" stroke-width="1.00"/>
<line x1="264.30" y1="469.40" x2="382.50" y2="469.40" stroke="#242424" stroke-width="1.00"/>
<polygon points="264.30,469.40 274.30,467.60 274.30,471.20" fill="#222"/>
<polygon points="382.50,469.40 372.50,471.20 372.50,467.60" fill="#222"/>
<path d="M308.00,458.06 L310.30,456.00 L310.30,465.40 M308.11,465.40 L312.37,465.40 M322.45,456.00 L316.50,456.00 L315.90,460.03 L316.50,459.58 L318.28,459.13 L320.07,459.13 L321.86,459.58 L323.05,460.48 L323.65,461.82 L323.65,462.71 L323.05,464.06 L321.86,464.95 L320.07,465.40 L318.28,465.40 L316.50,464.95 L315.90,464.50 L315.31,463.61 M326.85,464.50 L326.31,464.95 L326.85,465.40 L327.40,464.95 L326.85,464.50 M333.04,456.00 L331.25,456.45 L330.66,457.34 L330.66,458.24 L331.25,459.13 L332.44,459.58 L334.83,460.03 L336.61,460.48 L337.80,461.37 L338.40,462.27 L338.40,463.61 L337.80,464.50 L337.21,464.95 L335.42,465.40 L333.04,465.40 L331.25,464.95 L330.66,464.50 L330.06,463.61 L330.06,462.27 L330.66,461.37 L331.85,460.48 L333.63,460.03 L336.02,459.58 L337.21,459.13 L337.80,458.24 L337.80,457.34 L337.21,456.45 L335.42,456.00 L333.04,456.00" fill="none" stroke="#383838" stroke-width="1.10" stroke-linecap="round" stroke-linejoin="round"/>
<line x1="367.50" y1="391.30" x2="413.00" y2="391.30" stroke="#242424" stroke-width="1.00"/>
<line x1="388.90" y1="420.20" x2="413.00" y2="420.20" stroke="#242424" stroke-width="1.00"/>
<line x1="403.80" y1="347.00" x2="403.80" y2="420.20" stroke="#242424" stroke-width="1.00"/>
<polygon points="403.80,391.30 405.50,400.90 402.10,400.90" fill="#222"/>
<polygon points="403.80,420.20 402.10,410.60 405.50,410.60" fill="#222"/>
<path d="M390.57,378.20 L389.49,377.90 L388.57,377.19 L388.00,376.04 L388.00,374.18 L388.51,373.07 L389.26,372.47 L390.40,372.17 L391.31,372.17 L392.46,372.57 L393.26,373.53 L393.66,374.93 M393.66,374.93 L394.00,373.42 L394.74,372.37 L395.77,371.82 L396.80,371.67 L398.06,371.87 L399.09,372.47 L399.71,373.37 L400.00,374.68 L400.00,375.89 L399.60,377.29 L398.86,378.10 L397.71,378.60 M398.86,368.96 L399.43,369.42 L400.00,368.96 L399.43,368.50 L398.86,368.96 M388.00,363.24 L388.57,364.75 L390.29,365.75 L393.14,366.25 L394.86,366.25 L397.71,365.75 L399.43,364.75 L400.00,363.24 L400.00,362.23 L399.43,360.73 L397.71,359.72 L394.86,359.22 L393.14,359.22 L390.29,359.72 L388.57,360.73 L388.00,362.23 L388.00,363.24 M388.00,351.00 L388.00,356.03 L393.14,356.53 L392.57,356.03 L392.00,354.52 L392.00,353.01 L392.57,351.51 L393.71,350.50 L395.43,350.00 L396.57,350.00 L398.29,350.50 L399.43,351.51 L400.00,353.01 L400.00,354.52 L399.43,356.03 L398.86,356.53 L397.71,357.03" fill="none" stroke="#383838" stroke-width="1.10" stroke-linecap="round" stroke-linejoin="round"/>
<text transform="translate(86.40,501.40) scale(1,1.223)" font-family="Liberation Mono" font-size="11.667" font-weight="normal" fill="#404040" xml:space="preserve" >NOTES:</text>
<text transform="translate(86.40,517.30) scale(1,1.223)" font-family="Liberation Mono" font-size="11.667" font-weight="normal" fill="#404040" xml:space="preserve" >ELECTRICAL:</text>
<text transform="translate(86.40,597.30) scale(1,1.223)" font-family="Liberation Mono" font-size="11.667" font-weight="normal" fill="#404040" xml:space="preserve" >MECHANICAL:</text>
<text transform="translate(85.60,702.90) scale(1,1.223)" font-family="Liberation Mono" font-size="11.667" font-weight="normal" fill="#404040" xml:space="preserve" >ENVIRONMENTAL:</text>
<text transform="translate(95.20,533.20) scale(1,1.293)" font-family="Liberation Mono" font-size="8.450" font-weight="normal" fill="#404040" xml:space="preserve" >1. VOLTAGE RATING</text>
<text transform="translate(243.30,533.20) scale(1,1.290)" font-family="Liberation Mono" font-size="8.467" font-weight="normal" fill="#404040" xml:space="preserve" >: 125 VAC RMS.</text>
<text transform="translate(95.20,546.00) scale(1,1.293)" font-family="Liberation Mono" font-size="8.450" font-weight="normal" fill="#404040" xml:space="preserve" >2. CURRENT RATING</text>
<text transform="translate(243.30,546.00) scale(1,1.290)" font-family="Liberation Mono" font-size="8.467" font-weight="normal" fill="#404040" xml:space="preserve" >: 1.5 AMP.</text>
<text transform="translate(95.20,558.60) scale(1,1.293)" font-family="Liberation Mono" font-size="8.450" font-weight="normal" fill="#404040" xml:space="preserve" >3. CONTACT RESISTANCE</text>
<text transform="translate(243.30,558.60) scale(1,1.290)" font-family="Liberation Mono" font-size="8.467" font-weight="normal" fill="#404040" xml:space="preserve" >: 30 MILLIOHMS MAX.</text>
<text transform="translate(93.80,570.40) scale(1,1.293)" font-family="Liberation Mono" font-size="8.450" font-weight="normal" fill="#404040" xml:space="preserve" >4. INSULATION RESISTANCE</text>
<text transform="translate(243.30,570.40) scale(1,1.290)" font-family="Liberation Mono" font-size="8.467" font-weight="normal" fill="#404040" xml:space="preserve" >: 500 MEGOHMS MIN @ 500 VDC.</text>
<text transform="translate(93.80,582.70) scale(1,1.293)" font-family="Liberation Mono" font-size="8.450" font-weight="normal" fill="#404040" xml:space="preserve" >5. DIELECTRIC STRENGTH</text>
<text transform="translate(243.30,582.70) scale(1,1.290)" font-family="Liberation Mono" font-size="8.467" font-weight="normal" fill="#404040" xml:space="preserve" >: 1000 VAC RMS 50Hz or 60Hz,1MIN.</text>
<text transform="translate(93.00,613.40) scale(1,1.293)" font-family="Liberation Mono" font-size="8.450" font-weight="normal" fill="#404040" xml:space="preserve" >1. HOUSING &amp; INSERT MATERIAL</text>
<text transform="translate(243.30,613.40) scale(1,1.290)" font-family="Liberation Mono" font-size="8.467" font-weight="normal" fill="#404040" xml:space="preserve" >: PBT UL94V-0.</text>
<text transform="translate(94.40,626.70) scale(1,1.293)" font-family="Liberation Mono" font-size="8.450" font-weight="normal" fill="#404040" xml:space="preserve" >2. CONTACT MATERIAL</text>
<text transform="translate(243.30,626.70) scale(1,1.290)" font-family="Liberation Mono" font-size="8.467" font-weight="normal" fill="#404040" xml:space="preserve" >: DIAMETER 0.45MM PHOSPHOR BRONZE</text>
<text transform="translate(243.30,638.70) scale(1,1.290)" font-family="Liberation Mono" font-size="8.467" font-weight="normal" fill="#404040" xml:space="preserve" >  GOLD PLATING OVER NICKEL.</text>
<text transform="translate(94.40,650.70) scale(1,1.293)" font-family="Liberation Mono" font-size="8.450" font-weight="normal" fill="#404040" xml:space="preserve" >3. SHIELD</text>
<text transform="translate(243.30,650.70) scale(1,1.290)" font-family="Liberation Mono" font-size="8.467" font-weight="normal" fill="#404040" xml:space="preserve" >: 0.20    0.25MM THICKNESS BRASS WITH TIN PLATED.</text>
<text transform="translate(94.40,663.50) scale(1,1.293)" font-family="Liberation Mono" font-size="8.450" font-weight="normal" fill="#404040" xml:space="preserve" >4. MATING/UNMATING FORCE</text>
<text transform="translate(243.30,663.50) scale(1,1.290)" font-family="Liberation Mono" font-size="8.467" font-weight="normal" fill="#404040" xml:space="preserve" >: 2.2KG.F MAX.</text>
<text transform="translate(94.40,676.00) scale(1,1.293)" font-family="Liberation Mono" font-size="8.450" font-weight="normal" fill="#404040" xml:space="preserve" >5. RETENTION STRENGTH</text>
<text transform="translate(243.30,676.00) scale(1,1.290)" font-family="Liberation Mono" font-size="8.467" font-weight="normal" fill="#404040" xml:space="preserve" >: 7.7KG.F MIN BETWEEN JACK AND PLUG.</text>
<text transform="translate(94.40,687.50) scale(1,1.293)" font-family="Liberation Mono" font-size="8.450" font-weight="normal" fill="#404040" xml:space="preserve" >6. OPERATING LIFE</text>
<text transform="translate(243.30,687.50) scale(1,1.290)" font-family="Liberation Mono" font-size="8.467" font-weight="normal" fill="#404040" xml:space="preserve" >: 600 CYCLES MIN.</text>
<text transform="translate(93.00,718.90) scale(1,1.293)" font-family="Liberation Mono" font-size="8.450" font-weight="normal" fill="#404040" xml:space="preserve" >1. STORAGE</text>
<text transform="translate(243.30,718.90) scale(1,1.290)" font-family="Liberation Mono" font-size="8.467" font-weight="normal" fill="#404040" xml:space="preserve" >:</text>
<text transform="translate(94.40,732.00) scale(1,1.293)" font-family="Liberation Mono" font-size="8.450" font-weight="normal" fill="#404040" xml:space="preserve" >2. OPERATION</text>
<text transform="translate(243.30,732.00) scale(1,1.290)" font-family="Liberation Mono" font-size="8.467" font-weight="normal" fill="#404040" xml:space="preserve" >: -40</text>
<path d="M279.50,648.00 C281.30,645.40 282.65,646.00 284.00,647.20 S286.70,649.00 288.50,646.40" fill="none" stroke="#555" stroke-width="0.80" />
<path d="M285.60,716.20 C287.44,713.60 288.82,714.20 290.20,715.40 S292.96,717.20 294.80,714.60" fill="none" stroke="#555" stroke-width="0.80" />
<path d="M285.00,729.40 C286.88,726.80 288.29,727.40 289.70,728.60 S292.52,730.40 294.40,727.80" fill="none" stroke="#555" stroke-width="0.80" />
<text transform="translate(263.40,718.90) scale(1,1.293)" font-family="Liberation Mono" font-size="8.450" font-weight="normal" fill="#404040" xml:space="preserve" >0</text>
<circle cx="271.60" cy="713.00" r="1.10" fill="none" stroke="#444" stroke-width="0.70"/>
<text transform="translate(273.20,718.90) scale(1,1.175)" font-family="Liberation Mono" font-size="9.295" font-weight="normal" fill="#404040" xml:space="preserve" >C</text>
<text transform="translate(299.80,718.90) scale(1,1.293)" font-family="Liberation Mono" font-size="8.450" font-weight="normal" fill="#777" xml:space="preserve" >+</text>
<text transform="translate(304.90,718.90) scale(1,1.293)" font-family="Liberation Mono" font-size="8.450" font-weight="normal" fill="#404040" xml:space="preserve" >70</text>
<circle cx="318.00" cy="713.00" r="1.10" fill="none" stroke="#444" stroke-width="0.70"/>
<text transform="translate(319.60,718.90) scale(1,1.175)" font-family="Liberation Mono" font-size="9.295" font-weight="normal" fill="#404040" xml:space="preserve" >C</text>
<text transform="translate(324.60,718.90) scale(1,1.293)" font-family="Liberation Mono" font-size="8.450" font-weight="normal" fill="#404040" xml:space="preserve" >.</text>
<circle cx="270.60" cy="726.10" r="1.10" fill="none" stroke="#444" stroke-width="0.70"/>
<text transform="translate(272.20,732.00) scale(1,1.175)" font-family="Liberation Mono" font-size="9.295" font-weight="normal" fill="#404040" xml:space="preserve" >C</text>
<text transform="translate(299.60,732.00) scale(1,1.293)" font-family="Liberation Mono" font-size="8.450" font-weight="normal" fill="#888" xml:space="preserve" >+</text>
<text x="306.6" y="732.7" font-size="10.4" fill="#000" stroke="#000" stroke-width="0.25" style="font-family:'Liberation Sans'">85</text>
<circle cx="321.20" cy="726.10" r="1.10" fill="none" stroke="#444" stroke-width="0.70"/>
<text transform="translate(322.80,732.00) scale(1,1.175)" font-family="Liberation Mono" font-size="9.295" font-weight="normal" fill="#404040" xml:space="preserve" >C</text>
<text transform="translate(327.90,732.00) scale(1,1.293)" font-family="Liberation Mono" font-size="8.450" font-weight="normal" fill="#404040" xml:space="preserve" >.</text>
<line x1="77.50" y1="744.95" x2="669.70" y2="744.95" stroke="#666" stroke-width="1.90"/>
<line x1="264.60" y1="744.70" x2="264.60" y2="838.40" stroke="#707070" stroke-width="1.00"/>
<line x1="467.40" y1="744.70" x2="467.40" y2="838.40" stroke="#707070" stroke-width="1.00"/>
<line x1="264.60" y1="783.30" x2="669.70" y2="783.30" stroke="#707070" stroke-width="1.00"/>
<line x1="77.50" y1="821.60" x2="264.60" y2="821.60" stroke="#707070" stroke-width="1.00"/>
<line x1="467.40" y1="816.40" x2="669.70" y2="816.40" stroke="#707070" stroke-width="1.00"/>
<line x1="638.00" y1="783.30" x2="638.00" y2="816.40" stroke="#707070" stroke-width="1.00"/>
<line x1="585.00" y1="816.40" x2="585.00" y2="838.40" stroke="#707070" stroke-width="1.00"/>
<text transform="translate(101.0,803.4) scale(0.675,1)" font-size="54.6" fill="#111" style="font-family:'Liberation Serif'">DGKYD</text>
<text transform="translate(99.80,835.20) scale(1,1.214)" font-family="Liberation Mono" font-size="13.000" font-weight="normal" fill="#111" xml:space="preserve" >Drafted by:XuTiwen</text>
<text transform="translate(272.60,761.20) scale(1,1.135)" font-family="Liberation Mono" font-size="11.500" font-weight="normal" fill="#111" xml:space="preserve" >UNIT:</text>
<text transform="translate(308.20,761.20) scale(1,1.135)" font-family="Liberation Mono" font-size="11.500" font-weight="bold" fill="#111" xml:space="preserve" >mm</text>
<text transform="translate(272.00,778.00) scale(1,1.096)" font-family="Liberation Mono" font-size="9.417" font-weight="normal" fill="#111" xml:space="preserve" >.0</text>
<text transform="translate(284.30,778.40) scale(1,0.661)" font-family="Liberation Mono" font-size="17.000" font-weight="normal" fill="#111" xml:space="preserve" >±</text>
<text transform="translate(295.10,778.00) scale(1,1.096)" font-family="Liberation Mono" font-size="9.417" font-weight="normal" fill="#111" xml:space="preserve" >0.25</text>
<text transform="translate(327.20,778.00) scale(1,1.096)" font-family="Liberation Mono" font-size="9.417" font-weight="normal" fill="#111" xml:space="preserve" >.00</text>
<text transform="translate(345.15,778.40) scale(1,0.661)" font-family="Liberation Mono" font-size="17.000" font-weight="normal" fill="#111" xml:space="preserve" >±</text>
<text transform="translate(355.95,778.00) scale(1,1.096)" font-family="Liberation Mono" font-size="9.417" font-weight="normal" fill="#111" xml:space="preserve" >0.20</text>
<text transform="translate(388.00,778.00) scale(1,1.096)" font-family="Liberation Mono" font-size="9.417" font-weight="normal" fill="#111" xml:space="preserve" >.000</text>
<text transform="translate(411.60,778.40) scale(1,0.661)" font-family="Liberation Mono" font-size="17.000" font-weight="normal" fill="#111" xml:space="preserve" >±</text>
<text transform="translate(422.40,778.00) scale(1,1.096)" font-family="Liberation Mono" font-size="9.417" font-weight="normal" fill="#111" xml:space="preserve" >0.10</text>
<text transform="translate(289.00,817.90) scale(1,1.220)" font-family="Liberation Mono" font-size="16.667" font-weight="normal" fill="#111" xml:space="preserve" >1X1 Tab-Up RJ45</text>
<text transform="translate(488.40,771.30) scale(1,1.193)" font-family="Liberation Mono" font-size="13.100" font-weight="normal" fill="#111" xml:space="preserve" >Approved By: JP.Gong</text>
<text transform="translate(470.30,811.00) scale(1,1.230)" font-family="Liberation Mono" font-size="11.100" font-weight="normal" fill="#111" xml:space="preserve" >Part No:KRJ-5621S10P8CENL</text>
<text transform="translate(648.40,811.00) scale(1,1.047)" font-family="Liberation Mono" font-size="13.333" font-weight="normal" fill="#111" xml:space="preserve" >C</text>
<text x="644.7" y="792.7" font-size="8.6" fill="#888" textLength="19.0" lengthAdjust="spacingAndGlyphs" style="font-family:'Liberation Sans'">REV.</text>
<text x="466.9" y="835.3" font-size="16.3" fill="#8a8a8a" textLength="116.6" lengthAdjust="spacingAndGlyphs" style="font-family:'Liberation Sans'">WWW.DGKYD.COM</text>
<text x="587.8" y="833.8" font-size="8.6" fill="#888" textLength="28.4" lengthAdjust="spacingAndGlyphs" style="font-family:'Liberation Sans'">SHEET</text>
<text x="640.7" y="833.8" font-size="8.6" fill="#888" textLength="11.6" lengthAdjust="spacingAndGlyphs" style="font-family:'Liberation Sans'">OF</text>
<text transform="translate(624.40,835.20) scale(1,1.119)" font-family="Liberation Mono" font-size="11.667" font-weight="normal" fill="#111" xml:space="preserve" >1</text>
<text transform="translate(659.50,835.20) scale(1,1.119)" font-family="Liberation Mono" font-size="11.667" font-weight="normal" fill="#111" xml:space="preserve" >1</text>
</svg>
</body></html>
